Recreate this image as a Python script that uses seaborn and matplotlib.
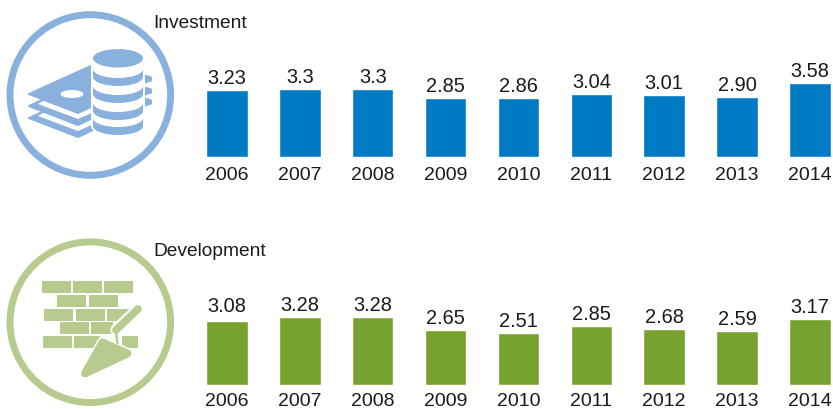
import matplotlib
matplotlib.use("Agg")
import matplotlib.pyplot as plt
from matplotlib.patches import Circle, Ellipse, Polygon, Rectangle
import pandas as pd
import seaborn as sns

# --- DATA ---
YEARS = ['2006', '2007', '2008', '2009', '2010', '2011', '2012', '2013', '2014']
INVESTMENT = [3.23, 3.3, 3.3, 2.85, 2.86, 3.04, 3.01, 2.90, 3.58]
INVESTMENT_LABELS = ['3.23', '3.3', '3.3', '2.85', '2.86', '3.04', '3.01', '2.90', '3.58']
DEVELOPMENT = [3.08, 3.28, 3.28, 2.65, 2.51, 2.85, 2.68, 2.59, 3.17]
DEVELOPMENT_LABELS = ['3.08', '3.28', '3.28', '2.65', '2.51', '2.85', '2.68', '2.59', '3.17']

BLUE = "#007bc3"
GREEN = "#78a22f"
LIGHT_BLUE = "#8ab1de"
LIGHT_GREEN = "#b6cb8d"
TEXT = "#1a1a1a"

W, H = 833, 410
PX_PER_UNIT = 20.75

sns.set_style("white")
plt.rcParams['font.family'] = ['Liberation Sans', 'DejaVu Sans']

fig = plt.figure(figsize=(W / 100, H / 100), dpi=100)


def px_axes(left, top, right, bottom):
    return fig.add_axes([left / W, 1 - bottom / H, (right - left) / W, (bottom - top) / H])


def draw_bars(values, labels, color, base_y, tick_pad):
    ax = px_axes(190.5, base_y - 100, 831.84, base_y)
    df = pd.DataFrame({'year': YEARS, 'value': values})
    sns.barplot(data=df, x='year', y='value', color=color, saturation=1, width=0.57, ax=ax)
    ax.set_xlim(-0.5, 8.3)
    ax.set_ylim(0, 100 / PX_PER_UNIT)
    texts = ax.bar_label(ax.containers[0], labels=labels, padding=2.1, fontsize=14.4, color=TEXT)
    ax.set_xlabel('')
    ax.set_ylabel('')
    ax.set_yticks([])
    ax.tick_params(axis='x', length=0, pad=tick_pad, labelsize=14, labelcolor=TEXT)
    ax.patch.set_alpha(0)
    sns.despine(ax=ax, left=True, bottom=True)
    return texts


draw_bars(INVESTMENT, INVESTMENT_LABELS, BLUE, 158, 6.4)
dev_texts = draw_bars(DEVELOPMENT, DEVELOPMENT_LABELS, GREEN, 386, 5.4)
# the 2006 label sits a little higher in the original
dev_texts[0].xyann = (dev_texts[0].xyann[0], dev_texts[0].xyann[1] + 2.5)

# overlay in pixel coordinates for the titles and pictograms
ov = fig.add_axes([0, 0, 1, 1], zorder=-1)
ov.set_xlim(0, W)
ov.set_ylim(H, 0)
ov.axis('off')

ov.text(153.5, 23, 'Investment', fontsize=13.8, color=TEXT, va='center', ha='left')
ov.text(153.5, 251, 'Development', fontsize=13.8, color=TEXT, va='center', ha='left')

# --- coins and banknotes icon ---
ov.add_patch(Circle((90.3, 96), 80.3, fill=False, ec=LIGHT_BLUE, lw=5))

z = 1
for dy in (24, 12, 0):
    bill = [(29, 95 + dy), (93, 66 + dy), (150, 80 + dy), (78, 114 + dy)]
    ov.add_patch(Polygon(bill, closed=True, fc=LIGHT_BLUE, ec=LIGHT_BLUE, lw=1.5,
                         joinstyle='round', zorder=z))
    if dy:
        gap = [(38, 93 + dy), (78, 108 + dy), (150, 76 + dy), (93, 60 + dy)]
        ov.add_patch(Polygon(gap, closed=True, fc='white', ec='none', zorder=z + 0.5))
    z += 1
ov.add_patch(Ellipse((72, 95), 23, 8, fc='white', ec='none', zorder=z))
z += 1

# right hand corners of the notes, poking out behind the coins
for y in (80, 92, 103):
    tab = [(138, y - 5.5), (151, y - 1.5), (151, y + 1.5), (138, y + 5.5)]
    ov.add_patch(Polygon(tab, closed=True, fc=LIGHT_BLUE, ec=LIGHT_BLUE, lw=1.5,
                         joinstyle='round', zorder=z))
z += 1

# coin stack, painted from the bottom upwards
for b in (136, 121, 104, 87):
    cy = b - 9
    ov.add_patch(Ellipse((118, cy), 54, 22, fc='white', ec='none', zorder=z))
    ov.add_patch(Rectangle((91, cy - 20), 54, 20, fc='white', ec='none', zorder=z))
    ov.add_patch(Ellipse((118, cy), 50, 18, fc=LIGHT_BLUE, ec='none', zorder=z + 0.1))
    ov.add_patch(Rectangle((93, cy - 7), 50, 7, fc=LIGHT_BLUE, ec='none', zorder=z + 0.1))
    ov.add_patch(Ellipse((118, cy - 8), 50, 18, fc='white', ec='none', zorder=z + 0.2))
    z += 1
ov.add_patch(Ellipse((118, 59.3), 50, 18.5, fc=LIGHT_BLUE, ec='none', zorder=z))

# --- bricks and trowel icon ---
ov.add_patch(Circle((90.3, 323.2), 80.3, fill=False, ec=LIGHT_GREEN, lw=5))
BRICK_ROWS = [
    (282, [(42, 71), (73, 102), (104, 133)]),
    (296, [(57, 86), (89, 118)]),
    (310, [(44, 73), (76, 105), (107, 130)]),
    (323, [(60, 89), (91, 113)]),
    (337, [(43, 72), (74, 100), (122, 138)]),
]
for top, spans in BRICK_ROWS:
    for x0, x1 in spans:
        ov.add_patch(Rectangle((x0, top), x1 - x0, 12, fc=LIGHT_GREEN, ec='none', zorder=1))

# trowel: white halo first, then the shape on top
blade = [(85, 374.5), (102.5, 343.5), (127.5, 354.5)]
ov.add_patch(Polygon(blade, closed=True, fc='white', ec='white', lw=8, joinstyle='round', zorder=2))
ov.plot([116, 117.5], [332, 344], color='white', lw=4, zorder=2)
ov.plot([116, 138], [331, 310], color='white', lw=8.5, solid_capstyle='round', zorder=2)
ov.add_patch(Polygon(blade, closed=True, fc=LIGHT_GREEN, ec=LIGHT_GREEN, lw=5.7, joinstyle='round', zorder=3))
ov.plot([116, 117.5], [332, 344], color=LIGHT_GREEN, lw=1.8, zorder=3)
ov.plot([116, 138], [331, 310], color=LIGHT_GREEN, lw=5.5, solid_capstyle='round', zorder=3)

fig.savefig('out.png', dpi=100)
